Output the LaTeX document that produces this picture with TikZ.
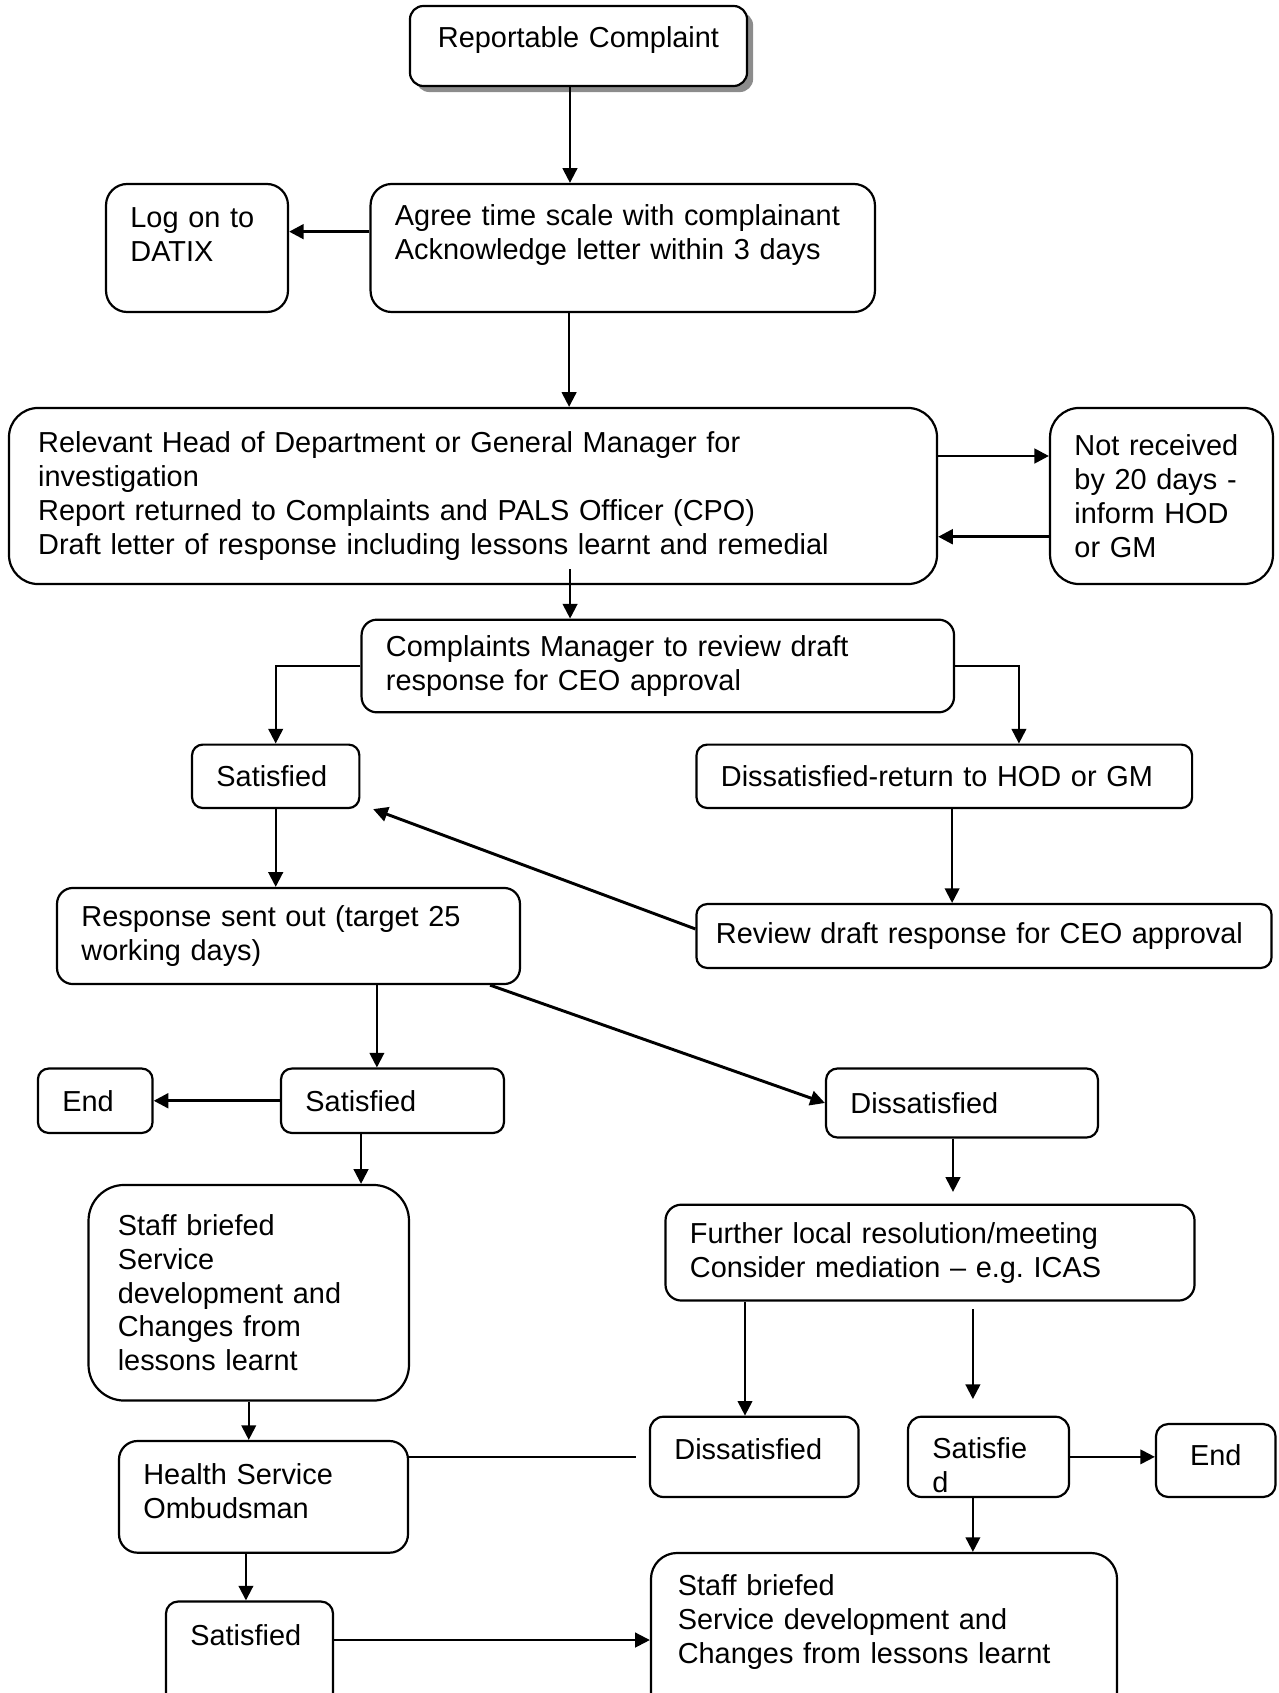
\documentclass[tikz,border=0pt]{standalone}
\usepackage{fontspec}
\setmainfont{Liberation Sans}
\usetikzlibrary{arrows.meta, calc, shadows}
\tikzset{every node/.append style={execute at begin node={\hyphenpenalty=10000\exhyphenpenalty=10000\relax}}}

\begin{document}
\begin{tikzpicture}[x=0.41pt, y=-0.41pt, font=\fontsize{11.85}{13.9}\selectfont,
  >={Triangle[length=6pt, width=6pt]},
  box/.style={draw, fill=white, line width=0.9pt, rounded corners=#1, align=left,
              inner xsep=10pt, inner ysep=4pt},
  box/.default=4.4pt,
  arr/.style={->, line width=0.85pt},
  bold/.style={line width=1.2pt}]
  \useasboundingbox (0,0) rectangle (1278,1693);

  % top of the chart
  \node[box=5.5pt, align=center, text width=118.2pt, minimum height=32.8pt, text depth=7.5pt,
        drop shadow={shadow xshift=2.5pt, shadow yshift=-2.5pt, fill=black!45, opacity=1}]
        (rc) at (578.5,46) {Reportable Complaint};
  \node[box=8.7pt, text width=54.6pt, minimum height=52.5pt, text depth=24.9pt]
        (log) at (197,248) {Log on to\\DATIX};
  \node[box=8.7pt, text width=186.8pt, minimum height=52.5pt, text depth=27pt]
        (agree) at (622.75,248) {Agree time scale with complainant\\Acknowledge letter within 3 days};
  \node[box=12pt, inner xsep=12pt, text width=356.5pt, minimum height=72.2pt]
        (rel) at (473,496) {Relevant Head of Department or General Manager for\\investigation\\
        Report returned to Complaints and PALS Officer (CPO)\\
        Draft letter of response including lessons learnt and remedial};
  \node[box=12pt, text width=71.4pt, minimum height=72.2pt]
        (notr) at (1161.5,496) {Not received\\by 20 days -\\inform HOD\\or GM};
  \node[box=6.3pt, text width=222.9pt, minimum height=38pt]
        (cm) at (657.8,666) {Complaints Manager to review draft\\response for CEO approval};

  % review loop
  \node[box, text width=48.6pt, minimum height=26pt] (sat1) at (275.7,776.3) {Satisfied};
  \node[box, text width=183.2pt, minimum height=26pt] (dret) at (944.3,776.3) {Dissatisfied-return to HOD or GM};
  \node[box=6.5pt, text width=169.8pt, minimum height=39.4pt]
        (resp) at (288.5,936) {Response sent out (target 25\\working days)};
  \node[box, inner xsep=8pt, text width=219.8pt, minimum height=26.2pt]
        (rev) at (984,936) {Review draft response for CEO approval};

  % outcome of the response
  \node[box, text width=27pt, minimum height=26.4pt] (end1) at (95.25,1100.75) {End};
  \node[box, text width=71.4pt, minimum height=26.4pt] (sat2) at (392.5,1100.75) {Satisfied};
  \node[box=4.7pt, text width=91.5pt, minimum height=28.3pt] (dis1) at (962,1103) {Dissatisfied};
  \node[box=14.7pt, inner xsep=12pt, text width=107.4pt, minimum height=88.4pt]
        (staff1) at (248.75,1292.75) {Staff briefed\\Service\\development and\\Changes from\\lessons learnt};
  \node[box=6.5pt, text width=196.9pt, minimum height=39.3pt]
        (furth) at (930,1252.6) {Further local resolution/meeting\\Consider mediation -- e.g.\ ICAS};

  % bottom row
  \node[box=7.6pt, text width=98.5pt, minimum height=45.8pt, text depth=18.5pt]
        (omb) at (263.5,1496.85) {Health Service\\Ombudsman};
  \node[box=5.5pt, text width=65.5pt, minimum height=32.9pt, text depth=6.8pt]
        (dis2) at (754.25,1456.85) {Dissatisfied};
  \node[box=5.5pt, text width=46pt, minimum height=32.9pt, text depth=6.9pt]
        (satd) at (988.5,1456.85) {Satisfie\\d};
  \node[box=5pt, align=center, text width=29pt, minimum height=29.9pt, text depth=4.5pt]
        (end2) at (1215.75,1460.5) {End};
  \node[box=5pt, text width=48.5pt, minimum height=48.6pt, text depth=21.1pt]
        (sat3) at (249.5,1660.75) {Satisfied};
  \node[box=10.7pt, inner xsep=11pt, text width=169.1pt, minimum height=68.5pt, text depth=42.2pt]
        (staff2) at (884,1636.5) {Staff briefed\\Service development and\\Changes from lessons learnt};

  % connectors
  \coordinate (rcout) at ([xshift=-3.5pt]rc.south);
  \draw[arr] (rcout) -- (rcout |- agree.north);
  \coordinate (agl) at ([yshift=6.7pt]agree.west);
  \draw[arr, bold] (agl) -- (agl -| log.east);
  \coordinate (agd) at ([xshift=-22pt]agree.south);
  \draw[arr] (agd) -- (agd |- rel.north);
  \coordinate (relr) at ([yshift=16.4pt]rel.east);
  \draw[arr, bold] (relr) -- (relr -| notr.west);
  \coordinate (notl) at ([yshift=-16.7pt]notr.west);
  \draw[arr, bold] (notl) -- (notl -| rel.east);
  \coordinate (relout) at ([xshift=39.8pt, yshift=6.6pt]rel.south);
  \draw[arr] (relout) -- (relout |- cm.north);
  \draw[arr] (cm.west) -| (sat1.north);
  \coordinate (dretin) at ([xshift=30.6pt]dret.north);
  \draw[arr] (cm.east) -| (dretin);
  \draw[arr] (sat1.south) -- (sat1.south |- resp.north);
  \coordinate (dretout) at ([xshift=3.2pt]dret.south);
  \draw[arr] (dretout) -- (dretout |- rev.north);
  \draw[arr, bold] ([yshift=2.9pt]rev.west) -- ([xshift=5.2pt]sat1.south east);
  \coordinate (s2in) at ([xshift=-6.4pt]sat2.north);
  \draw[arr] (s2in |- resp.south) -- (s2in);
  \draw[arr, bold] ([xshift=-12.7pt]resp.south east) -- (dis1.west);
  \draw[arr, bold] (sat2.west) -- (end1.east);
  \coordinate (s2out) at ([xshift=-12.9pt]sat2.south);
  \draw[arr] (s2out) -- (s2out |- staff1.north);
  \coordinate (d1out) at ([xshift=-3.7pt]dis1.south);
  \draw[arr] (d1out) -- ($(d1out |- furth.north)+(0pt,4.8pt)$);
  \coordinate (d2in) at ([xshift=-3.8pt]dis2.north);
  \draw[arr] (d2in |- furth.south) -- (d2in);
  \coordinate (sdin) at ([xshift=-6.4pt]satd.north);
  \draw[arr] ($(sdin |- furth.south)+(0pt,-3.1pt)$) -- ($(sdin)+(0pt,6.8pt)$);
  \draw[arr] (satd.east) -- (satd.east -| end2.west);
  \coordinate (sdout) at ([xshift=-6.4pt]satd.south);
  \draw[arr] (sdout) -- (sdout |- staff2.north);
  \draw[arr] (staff1.south) -- (staff1.south |- omb.north);
  \coordinate (omout) at ([xshift=-7.2pt]omb.south);
  \draw[arr] (omout) -- (omout |- sat3.north);
  \draw[line width=0.85pt] (omb.east |- dis2.west) -- ($(dis2.west)+(-5.3pt,0pt)$);
  \coordinate (s3out) at ([yshift=8.5pt]sat3.east);
  \draw[arr] (s3out) -- (s3out -| staff2.west);
\end{tikzpicture}
\end{document}
